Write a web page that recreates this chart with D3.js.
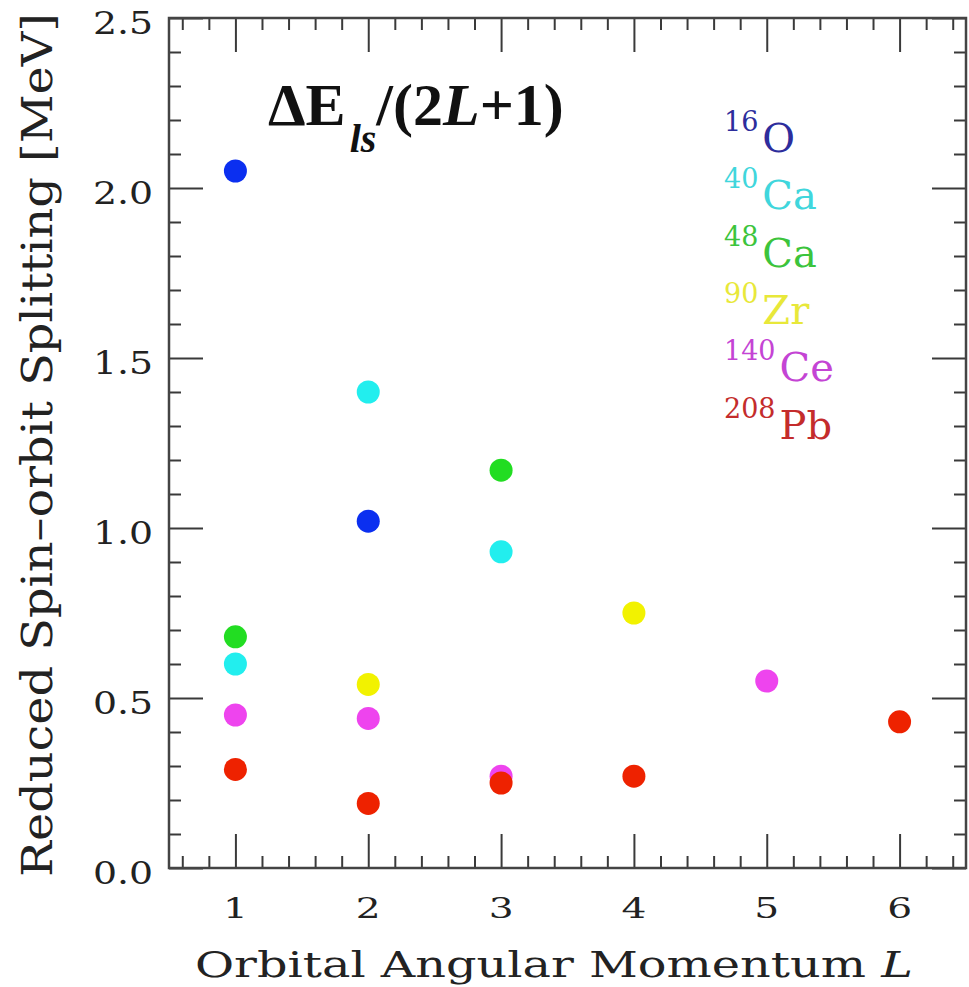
<!doctype html>
<html>
<head>
<script src="https://cdn.jsdelivr.net/npm/d3@7/dist/d3.min.js"></script>
<style>
  body { margin: 0; background: #fff; }
  svg { display: block; }
  text { font-family: "DejaVu Serif", serif; fill: #222; }
</style>
</head>
<body>
<svg width="969" height="987"></svg>
<script>
// nuclei and their points [L, dE_ls/(2L+1) in MeV]
var massNumbers = ["16", "40", "48", "90", "140", "208"];
var symbols = ["O", "Ca", "Ca", "Zr", "Ce", "Pb"];
var o16 = [[1, 2.05], [2, 1.02]];
var ca40 = [[1, 0.60], [2, 1.40], [3, 0.93]];
var ca48 = [[1, 0.68], [3, 1.17]];
var zr90 = [[2, 0.54], [4, 0.75]];
var ce140 = [[1, 0.45], [2, 0.44], [3, 0.27], [5, 0.55]];
var pb208 = [[1, 0.29], [2, 0.19], [3, 0.25], [4, 0.27], [6, 0.43]];
var xTicks = [1, 2, 3, 4, 5, 6];
var yTicks = [0, 0.5, 1.0, 1.5, 2.0, 2.5];

var series = [o16, ca40, ca48, zr90, ce140, pb208];
var dotColors = ["#0b2ff0", "#22eeee", "#22dd22", "#f2f200", "#ee44ee", "#ee2200"];
var textColors = ["#2d2d9c", "#40d6dc", "#3cc43c", "#e8e83a", "#c444d4", "#c42c2c"];

var pLeft = 169, pRight = 966, pTop = 18, pBottom = 868;
var svg = d3.select("svg");

var x = d3.scaleLinear().domain([0.5, 6.5]).range([pLeft, pRight]);
var y = d3.scaleLinear().domain([0, 2.5]).range([pBottom, pTop]);

var xMinor = d3.range(3, 33).filter(i => i % 5 != 0).map(i => i / 5);
var yMinor = d3.range(1, 25).filter(i => i % 5 != 0).map(i => i / 10);

function ticks(axis, t) {
  var g = svg.append("g").attr("transform", t).call(axis);
  g.select(".domain").remove();
  g.selectAll(".tick line").attr("stroke", "#3a3a3a").attr("stroke-width", 2);
}
ticks(d3.axisBottom(x).tickValues(xTicks).tickSize(-34).tickFormat(""), "translate(0," + pBottom + ")");
ticks(d3.axisBottom(x).tickValues(xMinor).tickSize(-12).tickFormat(""), "translate(0," + pBottom + ")");
ticks(d3.axisTop(x).tickValues(xTicks).tickSize(-34).tickFormat(""), "translate(0," + pTop + ")");
ticks(d3.axisTop(x).tickValues(xMinor).tickSize(-12).tickFormat(""), "translate(0," + pTop + ")");
ticks(d3.axisLeft(y).tickValues(yTicks).tickSize(-34).tickFormat(""), "translate(" + pLeft + ",0)");
ticks(d3.axisLeft(y).tickValues(yMinor).tickSize(-12).tickFormat(""), "translate(" + pLeft + ",0)");
ticks(d3.axisRight(y).tickValues(yTicks).tickSize(-34).tickFormat(""), "translate(" + pRight + ",0)");
ticks(d3.axisRight(y).tickValues(yMinor).tickSize(-12).tickFormat(""), "translate(" + pRight + ",0)");

svg.append("rect")
  .attr("x", pLeft).attr("y", pTop)
  .attr("width", pRight - pLeft).attr("height", pBottom - pTop)
  .attr("fill", "none").attr("stroke", "#444").attr("stroke-width", 2.5);

// tick labels
svg.selectAll("text.xt").data(xTicks).enter().append("text")
  .attr("class", "xt")
  .attr("text-anchor", "middle")
  .attr("font-size", 27)
  .attr("transform", d => "translate(" + x(d) + ",918) scale(1.45,1)")
  .text(d => d);

svg.selectAll("text.yt").data(yTicks).enter().append("text")
  .attr("class", "yt")
  .attr("text-anchor", "end")
  .attr("font-size", 31)
  .attr("transform", d => "translate(153," + (y(d) + 15.5) + ") scale(1.22,1)")
  .text(d => d3.format(".1f")(d));

// axis titles
var xl = svg.append("text")
  .attr("font-size", 36)
  .attr("x", 0).attr("y", 0);
xl.append("tspan").text("Orbital Angular Momentum ");
xl.append("tspan").attr("font-style", "italic").text("L");
var xw = xl.node().getBBox().width;
xl.attr("transform", "translate(195,977) scale(" + (718 / xw) + ",1)");

var yg = svg.append("g").attr("transform", "translate(52,445) rotate(-90)");
var yl = yg.append("text")
  .attr("font-size", 42)
  .attr("text-anchor", "middle")
  .text("Reduced Spin\u2013orbit Splitting [MeV]");
var yw = yl.node().getBBox().width;
yl.attr("transform", "scale(" + (864 / yw) + ",1)");

// big label
var title = svg.append("text")
  .attr("x", 268).attr("y", 125)
  .style("font-family", "'Liberation Serif', serif")
  .attr("font-weight", "bold")
  .attr("font-size", 60)
  .style("fill", "#111");
title.append("tspan").text("\u0394E");
title.append("tspan").attr("font-style", "italic").attr("font-size", 40).attr("dx", 4).attr("dy", 27).text("ls");
title.append("tspan").attr("dy", -27).text("/(2");
title.append("tspan").attr("font-style", "italic").text("L");
title.append("tspan").text("+1)");

// legend
var legend = svg.selectAll("text.lg").data(massNumbers).enter().append("text")
  .attr("class", "lg")
  .attr("x", 724)
  .attr("y", (d, i) => 152 + i * 57.3)
  .style("fill", (d, i) => textColors[i]);
legend.append("tspan").attr("font-size", 27).attr("dy", -21).text(d => d).style("fill", (d, i) => textColors[i]);
legend.append("tspan").attr("font-size", 40).attr("dy", 21).attr("dx", 4)
  .text((d, i) => symbols[i]).style("fill", (d, i) => textColors[i]);

// points
series.forEach(function(s, i) {
  svg.append("g").selectAll("circle").data(s).enter().append("circle")
    .attr("cx", d => x(d[0]))
    .attr("cy", d => y(d[1]))
    .attr("r", 11.5)
    .attr("fill", dotColors[i]);
});
</script>
</body>
</html>
